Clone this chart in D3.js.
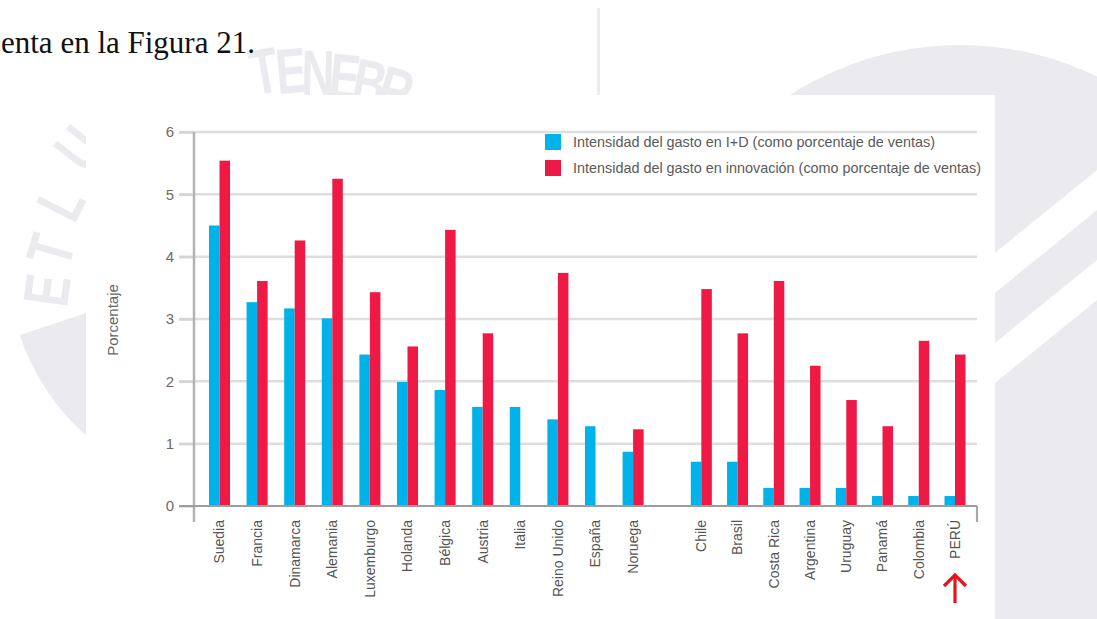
<!DOCTYPE html>
<html>
<head>
<meta charset="utf-8">
<script src="https://cdn.jsdelivr.net/npm/d3@7"></script>
<style>
  html, body { margin: 0; padding: 0; background: #ffffff; }
  svg { display: block; }
</style>
</head>
<body>
<svg id="chart" width="1097" height="619"></svg>
<script>
// ---------------- DATA ----------------
const europe = ["Suedia", "Francia", "Dinamarca", "Alemania", "Luxemburgo", "Holanda", "Bélgica", "Austria", "Italia", "Reino Unido", "España", "Noruega"];
const latam = ["Chile", "Brasil", "Costa Rica", "Argentina", "Uruguay", "Panamá", "Colombia", "PERÚ"];
const rdEurope = [4.50, 3.27, 3.17, 3.01, 2.43, 1.99, 1.86, 1.59, 1.59, 1.39, 1.28, 0.87];
const innovEurope = [5.54, 3.61, 4.26, 5.25, 3.43, 2.56, 4.43, 2.77, null, 3.74, null, 1.23];
const rdLatam = [0.71, 0.71, 0.29, 0.29, 0.29, 0.16, 0.16, 0.16];
const innovLatam = [3.48, 2.77, 3.61, 2.25, 1.70, 1.28, 2.65, 2.43];
const yTicks = [0, 1, 2, 3, 4, 5, 6];
const seriesKeys = ["rd", "innov"];
const seriesLabels = ["Intensidad del gasto en I+D (como porcentaje de ventas)", "Intensidad del gasto en innovación (como porcentaje de ventas)"];
const yLabel = "Porcentaje";
const introText = "enta en la Figura 21.";
const highlight = "PERÚ";
// watermark motto letters (decorative background seal)
const mottoLetters = ["E", "T", "L", "U", "T", "E", "N", "E", "B", "R"];

// ---------------- STYLE ----------------
const colors = { rd: "#00b2ea", innov: "#ee1a45" };
const wm = "#ebebef";
const svg = d3.select("#chart");

// ---------------- WATERMARK (decorative background) ----------------
const wmG = svg.append("g");
// ring band at left
wmG.append("path")
  .attr("transform", "translate(240,262)")
  .attr("d", d3.arc().innerRadius(160).outerRadius(232).startAngle(Math.PI + 0.35).endAngle(1.5 * Math.PI - 0.32)())
  .attr("fill", wm);
const letterPos = [[46, 290, -82], [50, 250, -74], [60, 202, -63], [78, 148, -52],
                   [264, 70, -10], [291, 70, -5], [318, 72, 1], [345, 76, 6], [370, 82, 11], [396, 90, 16]];
wmG.selectAll("text.wm").data(mottoLetters).join("text")
  .attr("class", "wm")
  .attr("transform", (d, i) => `translate(${letterPos[i][0]},${letterPos[i][1]}) rotate(${letterPos[i][2]}) scale(0.72,1)`)
  .attr("text-anchor", "middle").attr("dy", "0.36em")
  .attr("font-family", "Liberation Sans, Arial, sans-serif")
  .attr("font-size", 64)
  .attr("font-weight", "bold")
  .attr("fill", wm)
  .text(d => d);
// right emblem
wmG.append("circle").attr("cx", 960).attr("cy", 359).attr("r", 314).attr("fill", wm);
wmG.append("path").attr("d", "M900,330 L1097,170 L1097,210 L900,370 Z").attr("fill", "#fff");
wmG.append("path").attr("d", "M900,420 L1097,260 L1097,300 L900,460 Z").attr("fill", "#fff");
wmG.append("rect").attr("x", 597).attr("y", 8).attr("width", 3).attr("height", 90).attr("fill", wm);

// chart panel
svg.append("rect").attr("x", 86).attr("y", 95).attr("width", 909).attr("height", 524).attr("fill", "#fff");

// intro text
svg.append("text")
  .attr("x", 1).attr("y", 53)
  .attr("font-family", "Liberation Serif, 'Times New Roman', serif")
  .attr("font-size", 31)
  .attr("fill", "#111")
  .text(introText);

// ---------------- SCALES ----------------
const y = d3.scaleLinear().domain([0, 6]).range([506, 132]);
const xEu = d3.scaleBand().domain(europe).range([200.7, 200.7 + 12 * 37.6]).paddingInner(0.44).paddingOuter(0.22);
const xLa = d3.scaleBand().domain(latam).range([683.2, 683.2 + 8 * 36.24]).paddingInner(0.42).paddingOuter(0.21);
const xSubEu = d3.scaleBand().domain(seriesKeys).range([0, xEu.bandwidth()]);
const xSubLa = d3.scaleBand().domain(seriesKeys).range([0, xLa.bandwidth()]);

const axisLeftX = 194, gridX0 = 179, gridX1 = 977;

// gridlines
const grid = svg.append("g");
grid.selectAll("line").data(yTicks.filter(t => t > 0)).join("line")
  .attr("x1", gridX0).attr("x2", gridX1)
  .attr("y1", d => y(d)).attr("y2", d => y(d))
  .attr("stroke", "#dedede").attr("stroke-width", 2.5);

// legend
const legend = svg.append("g");
seriesKeys.forEach((k, i) => {
  const ly = 134 + i * 26;
  legend.append("rect").attr("x", 545).attr("y", ly).attr("width", 16).attr("height", 16).attr("fill", colors[k]);
  legend.append("text").attr("x", 573).attr("y", ly + 8).attr("dy", "0.35em")
    .attr("font-family", "Liberation Sans, Arial, sans-serif").attr("font-size", 14.4)
    .attr("fill", "#5a5a5a").text(seriesLabels[i]);
});

// bars
function drawGroup(cats, rd, inn, xs, xsub) {
  const rows = cats.map((c, i) => ({ c, rd: rd[i], innov: inn[i] }));
  const g = svg.append("g");
  const grp = g.selectAll("g").data(rows).join("g").attr("transform", d => `translate(${xs(d.c)},0)`);
  grp.selectAll("rect")
    .data(d => seriesKeys.filter(k => d[k] != null).map(k => ({ k, v: d[k] })))
    .join("rect")
    .attr("x", d => xsub(d.k))
    .attr("width", xsub.bandwidth())
    .attr("y", d => y(d.v))
    .attr("height", d => y(0) - y(d.v))
    .attr("fill", d => colors[d.k]);
  // category labels
  g.selectAll("text.cat").data(cats).join("text")
    .attr("class", "cat")
    .attr("transform", d => `translate(${xs(d) + xs.bandwidth() / 2},520) rotate(-90)`)
    .attr("text-anchor", "end").attr("dy", "0.35em")
    .attr("font-family", "Liberation Sans, Arial, sans-serif").attr("font-size", 14)
    .attr("fill", "#555").text(d => d);
}
drawGroup(europe, rdEurope, innovEurope, xEu, xSubEu);
drawGroup(latam, rdLatam, innovLatam, xLa, xSubLa);

// axes
const axisG = svg.append("g").attr("transform", `translate(${axisLeftX},0)`);
const yAxis = d3.axisLeft(y).tickValues(yTicks).tickSize(axisLeftX - gridX0).tickPadding(5).tickFormat(d3.format("d"));
axisG.call(yAxis);
axisG.select(".domain").remove();
axisG.selectAll(".tick line").attr("stroke", "#d5d5d5").attr("stroke-width", 2.5);
axisG.selectAll(".tick text").attr("font-family", "Liberation Sans, Arial, sans-serif").attr("font-size", 15).attr("fill", "#6f6a66");
svg.append("line").attr("x1", axisLeftX).attr("x2", axisLeftX).attr("y1", y(6)).attr("y2", 522)
  .attr("stroke", "#b3b3b3").attr("stroke-width", 2.5);
svg.append("line").attr("x1", gridX0).attr("x2", gridX1).attr("y1", y(0)).attr("y2", y(0))
  .attr("stroke", "#9d9d9d").attr("stroke-width", 2.2);
svg.append("line").attr("x1", gridX1).attr("x2", gridX1).attr("y1", y(0)).attr("y2", 522)
  .attr("stroke", "#a8a8a8").attr("stroke-width", 2.2);

// y label
svg.append("text")
  .attr("transform", "translate(113,320) rotate(-90)")
  .attr("text-anchor", "middle").attr("dy", "0.35em")
  .attr("font-family", "Liberation Sans, Arial, sans-serif").attr("font-size", 15)
  .attr("fill", "#666").text(yLabel);

// arrow under PERÚ
const ax = xLa(highlight) + xLa.bandwidth() / 2;
const arrow = svg.append("g").attr("stroke", "#e8141c").attr("stroke-width", 3.2).attr("fill", "none").attr("stroke-linecap", "butt");
arrow.append("line").attr("x1", ax).attr("x2", ax).attr("y1", 575).attr("y2", 603);
arrow.append("path").attr("d", `M${ax - 11},586 L${ax},575 L${ax + 11},586`);
</script>
</body>
</html>
